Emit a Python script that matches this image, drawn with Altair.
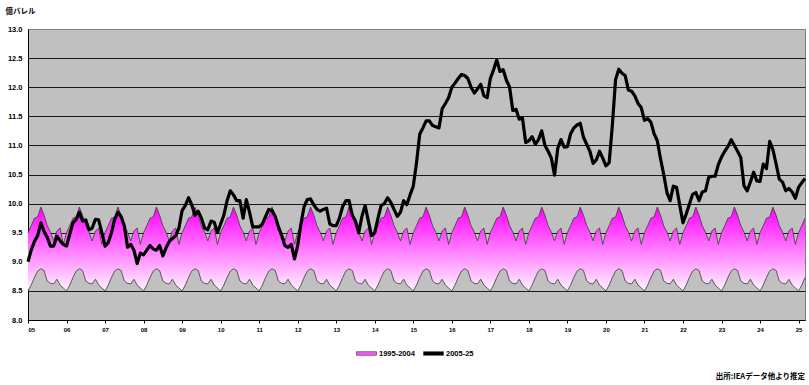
import altair as alt
import pandas as pd

# Monthly commercial stocks, Jan 2005 - Mar 2025 (億バレル)
stocks_2005_25 = [
    9.00, 9.20, 9.35, 9.45, 9.67, 9.52, 9.42, 9.27, 9.27, 9.44, 9.36, 9.30,      # 2005
    9.27, 9.47, 9.67, 9.73, 9.85, 9.70, 9.72, 9.55, 9.58, 9.73, 9.72, 9.50,      # 2006
    9.27, 9.33, 9.50, 9.73, 9.85, 9.78, 9.62, 9.25, 9.30, 9.20, 8.97, 9.15,      # 2007
    9.12, 9.20, 9.28, 9.22, 9.20, 9.28, 9.10, 9.24, 9.35, 9.40, 9.45, 9.58,      # 2008
    9.88, 9.97, 10.10, 9.98, 9.80, 9.87, 9.75, 9.58, 9.55, 9.70, 9.68, 9.50,     # 2009
    9.65, 9.80, 10.05, 10.22, 10.15, 10.05, 10.05, 9.75, 10.07, 9.85, 9.60, 9.60,  # 2010
    9.60, 9.65, 9.78, 9.90, 9.88, 9.78, 9.60, 9.45, 9.28, 9.25, 9.30, 9.05,      # 2011
    9.28, 9.65, 9.95, 10.07, 10.08, 9.98, 9.90, 9.87, 9.90, 9.92, 9.65, 9.62,    # 2012
    9.62, 9.75, 9.95, 10.05, 10.05, 9.80, 9.70, 9.50, 9.78, 9.97, 9.70, 9.45,    # 2013
    9.50, 9.75, 9.97, 10.00, 10.10, 10.02, 9.90, 9.78, 9.85, 10.05, 9.98, 10.15,  # 2014
    10.30, 10.70, 11.19, 11.30, 11.42, 11.42, 11.34, 11.32, 11.30, 11.63, 11.72, 11.82,  # 2015
    12.00, 12.07, 12.15, 12.22, 12.20, 12.15, 12.00, 11.90, 11.97, 12.05, 11.85, 11.82,  # 2016
    12.15, 12.30, 12.47, 12.27, 12.30, 12.12, 12.00, 11.60, 11.62, 11.45, 11.47, 11.05,  # 2017
    11.08, 11.15, 11.02, 11.10, 11.25, 11.00, 10.90, 10.78, 10.49, 10.95, 11.10, 10.97,  # 2018
    10.98, 11.20, 11.30, 11.35, 11.38, 11.14, 11.02, 10.90, 10.69, 10.75, 10.90, 10.78,  # 2019
    10.65, 10.70, 11.35, 12.13, 12.31, 12.24, 12.20, 11.95, 11.93, 11.85, 11.72, 11.65,  # 2020
    11.43, 11.46, 11.40, 11.20, 11.08, 10.77, 10.50, 10.19, 10.05, 10.30, 10.28, 9.97,   # 2021
    9.67, 9.82, 9.99, 10.16, 10.19, 10.05, 10.20, 10.22, 10.45, 10.47, 10.47, 10.67,     # 2022
    10.80, 10.90, 10.98, 11.10, 11.00, 10.90, 10.79, 10.31, 10.22, 10.37, 10.54, 10.39,  # 2023
    10.38, 10.68, 10.60, 11.07, 10.93, 10.68, 10.42, 10.37, 10.22, 10.26, 10.20, 10.09,  # 2024
    10.28, 10.36, 10.43,                                                                 # 2025
]

# 1995-2004 monthly range (Jan..Dec), repeated over every year shown
range_max = [9.50, 9.62, 9.75, 9.77, 9.94, 9.80, 9.62, 9.51, 9.36, 9.53, 9.58, 9.30]
range_min = [8.50, 8.60, 8.73, 8.84, 8.88, 8.85, 8.67, 8.63, 8.62, 8.70, 8.60, 8.55]

series_names = ["1995-2004", "2005-25"]
series_colors = ["#FF55FF", "#000000"]
year_ticks = list(range(2005, 2026))
y_ticks = [8.0 + 0.5 * i for i in range(11)]

start_year = 2005
months = list(range(len(stocks_2005_25)))
t = [start_year + m / 12 for m in months]

stock_df = pd.DataFrame({"t": t, "v": stocks_2005_25})
band_df = pd.DataFrame({
    "t": t,
    "hi": [range_max[m % 12] for m in months],
    "lo": [range_min[m % 12] for m in months],
})
key_df = pd.DataFrame({
    "series": series_names,
    "t": [t[0], t[0]],
    "v": [range_max[0], stocks_2005_25[0]],
})
note_df = pd.DataFrame({"note": ["出所:IEAデータ他より推定"]})

W, H = 777, 291
LATIN = "Liberation Sans"
CJK = "Noto Sans CJK JP"

x_scale = alt.Scale(domain=[t[0], t[-1]], nice=False, zero=False)
x_axis = alt.Axis(
    values=year_ticks,
    labelExpr="slice(toString(datum.value), 2)",
    labelOverlap=False,
    title=None,
    grid=False,
    domainColor="#000000",
    tickColor="#000000",
    tickSize=3,
    labelFont=LATIN,
    labelFontSize=6,
    labelFontWeight="bold",
    labelColor="#000000",
    labelPadding=3,
)
y_scale = alt.Scale(domain=[8, 13], nice=False, zero=False)
y_axis = alt.Axis(
    values=y_ticks,
    format=".1f",
    labelOverlap=False,
    ticks=False,
    labelPadding=6,
    labelFont=LATIN,
    labelFontSize=7.5,
    labelFontWeight="bold",
    labelColor="#000000",
    domainColor="#000000",
    grid=True,
    gridColor={"condition": {"test": "datum.value >= 13", "value": "#808080"}, "value": "#1a1a1a"},
    gridWidth=1,
    title="億バレル",
    titleAngle=0,
    titleAlign="left",
    titleBaseline="middle",
    titleX=-23,
    titleY=-18,
    titleFont=CJK,
    titleFontSize=7.5,
    titleFontWeight="bold",
    titleColor="#000000",
)


def xq(field):
    return alt.X(field, type="quantitative", scale=x_scale, axis=x_axis)


def yq(field):
    return alt.Y(field, type="quantitative", scale=y_scale, axis=y_axis)


band_fill = alt.Gradient(
    gradient="linear",
    stops=[
        alt.GradientStop(color="#FF00FF", offset=0),
        alt.GradientStop(color="#FFF3FF", offset=1),
    ],
    x1=1, x2=1, y1=0, y2=1,
)

band = alt.Chart(band_df).mark_area(fill=band_fill).encode(
    x=xq("t"), y=yq("hi"), y2="lo:Q"
)
band_hi = alt.Chart(band_df).mark_line(stroke="#3a3a3a", strokeWidth=0.8).encode(
    x=xq("t"), y=yq("hi")
)
band_lo = alt.Chart(band_df).mark_line(stroke="#3a3a3a", strokeWidth=0.8).encode(
    x=xq("t"), y=yq("lo")
)
stock_line = alt.Chart(stock_df).mark_line(
    stroke="#000000", strokeWidth=3.2, strokeJoin="round"
).encode(x=xq("t"), y=yq("v"))

key = alt.Chart(key_df).mark_point(filled=True, opacity=0).encode(
    x=xq("t"),
    y=yq("v"),
    fill=alt.Fill(
        "series:N",
        scale=alt.Scale(domain=series_names, range=series_colors),
        legend=alt.Legend(
            title=None,
            orient="none",
            direction="horizontal",
            legendX=328,
            legendY=314,
            symbolType="M-1,-0.18H1V0.18H-1Z",
            symbolSize=400,
            symbolStrokeColor="#333333",
            symbolStrokeWidth=0.6,
            symbolOpacity=1,
            labelFont=LATIN,
            labelFontSize=7.5,
            labelFontWeight="bold",
            labelColor="#000000",
            labelOffset=2,
            columnPadding=7,
            padding=0,
        ),
    ),
)

note = alt.Chart(note_df).mark_text(
    align="right", baseline="middle", font=CJK, fontSize=7.5, fontWeight="bold", color="#000000"
).encode(text="note:N", x=alt.value(W), y=alt.value(H + 57))

chart = alt.layer(band, band_hi, band_lo, stock_line, key, note).properties(
    width=W,
    height=H,
    autosize="none",
    padding={"left": 28, "top": 29, "right": 4, "bottom": 65},
    background="#FFFFFF",
).configure_view(fill="#C0C0C0", stroke="#808080", strokeWidth=1)

chart.save("out.html", embed_options={"renderer": "svg", "actions": False})
